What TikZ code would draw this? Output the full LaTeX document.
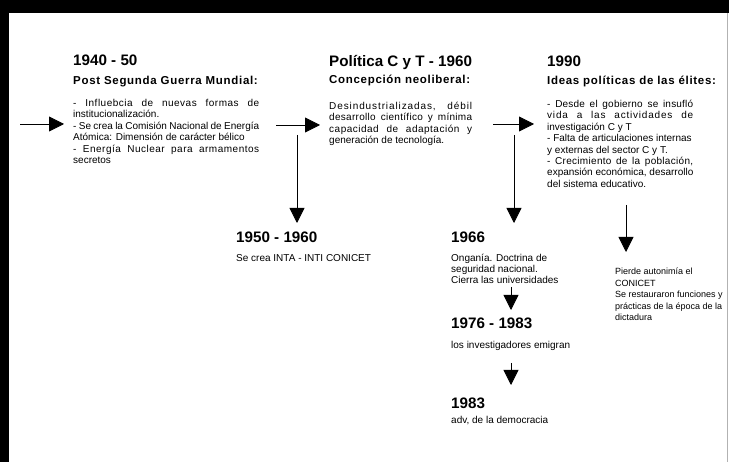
\documentclass[tikz,border=0pt]{standalone}
\usepackage{fontspec}
\setmainfont{Liberation Sans}
\newfontfamily\subfont[LetterSpace=6]{Liberation Sans}
\usetikzlibrary{arrows.meta}
\newcommand{\jline}[2]{\makebox[#1][s]{#2}}
\newcommand{\lsp}[2]{{\addfontfeatures{LetterSpace=#1}#2}}
\begin{document}
\begin{tikzpicture}[x=1pt,y=-1pt,
  arr/.style={-{Triangle[length=15pt,width=15pt]}, line width=0.8pt},
  yr/.style={anchor=north west, inner sep=0pt, font=\fontsize{15.2}{16}\selectfont\bfseries},
  sub/.style={anchor=north west, inner sep=0pt, font=\fontsize{11.5}{12}\subfont\bfseries},
  body/.style={anchor=north west, inner sep=0pt, font=\fontsize{10}{11.4}\selectfont, align=left},
  note/.style={anchor=north west, inner sep=0pt, font=\fontsize{10}{11}\selectfont, align=left},
  smallnote/.style={anchor=north west, inner sep=0pt, font=\fontsize{9}{11.5}\selectfont, align=left}]
\useasboundingbox (0,0) rectangle (729,462);
\fill[black] (0,0) rectangle (729,462);
\fill[white] (9,13) rectangle (729,462);
\draw[gray!60, line width=1pt] (727.5,13) -- (727.5,462);

% column 1
\node[yr] (t1) at (73,55) {1940 - 50};
\node[sub] (s1) at (73,76) {Post Segunda Guerra Mundial:};
\node[body] (b1) at (73,99) {\jline{186pt}{\lsp{5}{- Influebcia de nuevas formas de}}\\
institucionalización.\\
\jline{186pt}{- Se crea la Comisión Nacional de Energía}\\
Atómica: Dimensión de carácter bélico\\
\jline{186pt}{\lsp{5}{- Energía Nuclear para armamentos}}\\
secretos};

% column 2
\node[yr] (t2) at (329,55) {Política C y T - 1960};
\node[sub] (s2) at (329,75) {Concepción neoliberal:};
\node[body] (b2) at (329,102) {\jline{143pt}{\lsp{9}{Desindustrializadas, débil}}\\
\jline{143pt}{\lsp{3}{desarrollo científico y mínima}}\\
\jline{143pt}{\lsp{5}{capacidad de adaptación y}}\\
generación de tecnología.};

% column 3
\node[yr] (t3) at (547,56) {1990};
\node[sub] (s3) at (547,76) {Ideas políticas de las élites:};
\node[body] (b3) at (547,100) {\jline{146pt}{\lsp{2}{- Desde el gobierno se insufló}}\\
\jline{146pt}{\lsp{8}{vida a las actividades de}}\\
investigación C y T\\
- Falta de articulaciones internas\\
y externas del sector C y T.\\
\jline{146pt}{\lsp{3}{- Crecimiento de la población,}}\\
expansión económica, desarrollo\\
del sistema educativo.};

% lower nodes
\node[yr] (t4) at (236,232) {1950 - 1960};
\node[note] (n4) at (236,254) {Se crea INTA - INTI CONICET};

\node[yr] (t5) at (451,232) {1966};
\node[note] (n5) at (451,254) {Onganía. Doctrina de\\seguridad nacional.\\Cierra las universidades};

\node[yr] (t6) at (451,318) {1976 - 1983};
\node[note] (n6) at (451,341) {los investigadores emigran};

\node[yr] (t7) at (451,398) {1983};
\node[note] (n7) at (451,416) {adv, de la democracia};

\node[smallnote] (n8) at (615,268) {Pierde autonimía el\\CONICET\\Se restauraron funciones y\\prácticas de la época de la\\dictadura};

% arrow end points
\coordinate (h1a) at (20,124);  \coordinate (h1b) at (64,124);
\coordinate (h2a) at (276,125); \coordinate (h2b) at (320,125);
\coordinate (h3a) at (493,124); \coordinate (h3b) at (534,124);
\coordinate (v1a) at (297,135); \coordinate (v1b) at (297,223);
\coordinate (v2a) at (514,135); \coordinate (v2b) at (514,223);
\coordinate (v3a) at (626,205); \coordinate (v3b) at (626,252);
\coordinate (v4a) at (511,287); \coordinate (v4b) at (511,310);
\coordinate (v5a) at (511,363); \coordinate (v5b) at (511,385);

\draw[arr] (h1a) -- (h1b);
\draw[arr] (h2a) -- (h2b);
\draw[arr] (h3a) -- (h3b);
\draw[arr] (v1a) -- (v1b);
\draw[arr] (v2a) -- (v2b);
\draw[arr] (v3a) -- (v3b);
\draw[arr] (v4a) -- (v4b);
\draw[arr] (v5a) -- (v5b);
\end{tikzpicture}
\end{document}
